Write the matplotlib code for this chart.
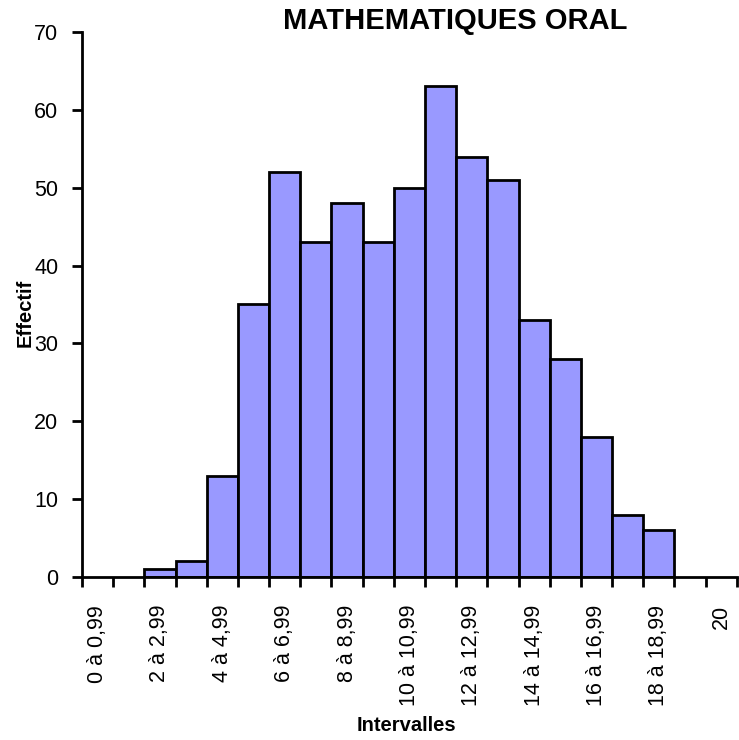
import matplotlib
matplotlib.use('Agg')
import matplotlib.pyplot as plt
import numpy as np

plt.rcParams['font.family'] = ['Liberation Sans', 'DejaVu Sans']

# data
categories = [f"{i} à {i},99" for i in range(20)] + ["20"]
counts = [0, 0, 1, 2, 13, 35, 52, 43, 48, 43, 50, 63, 54, 51, 33, 28, 18, 8, 6, 0, 0]
shown_labels = [c if i % 2 == 0 else "" for i, c in enumerate(categories)]
y_ticks = list(range(0, 71, 10))

fig = plt.figure(figsize=(7.39, 7.40), dpi=100)
ax = fig.add_axes([0.111, 0.2203, 0.886, 0.7365])

x = np.arange(len(categories))
vals = np.array(counts)
mask = vals > 0
ax.bar(x[mask], vals[mask], width=1.0, color='#9999FF', edgecolor='black', linewidth=2)

ax.set_xlim(-0.5, len(categories) - 0.5)
ax.set_ylim(0, 70)
ax.set_yticks(y_ticks)

# category labels centered, tick marks on boundaries
ax.set_xticks(x)
ax.set_xticklabels(shown_labels, rotation=90, fontsize=15.5)
ax.tick_params(axis='x', which='major', length=0, pad=20)
ax.set_xticks(np.arange(len(categories) + 1) - 0.5, minor=True)
ax.tick_params(axis='x', which='minor', length=7, width=2, direction='out')
ax.tick_params(axis='y', length=7, width=2, labelsize=15.5, pad=10)

for side in ['top', 'right']:
    ax.spines[side].set_visible(False)
for side in ['left', 'bottom']:
    ax.spines[side].set_linewidth(2)

ax.set_ylabel('Effectif', fontsize=14.5, fontweight='bold', va='center')
ax.yaxis.set_label_coords(-0.087, 0.484)
ax.set_xlabel('Intervalles', fontsize=14.5, fontweight='bold', va='center')
ax.xaxis.set_label_coords(0.495, -0.2716)

fig.text(455 / 739, 1 - 21 / 740, 'MATHEMATIQUES ORAL', ha='center', va='center',
         fontsize=21, fontweight='bold')

fig.savefig('out.png', dpi=100)
